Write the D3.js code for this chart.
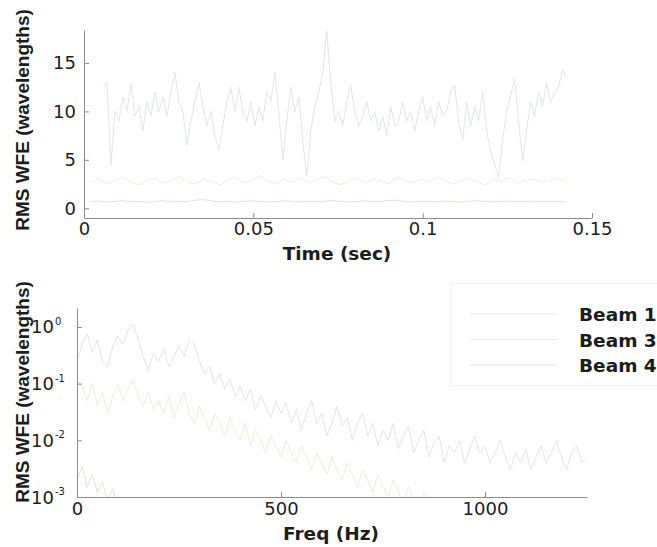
<!DOCTYPE html>
<html>
<head>
<meta charset="utf-8">
<script src="https://cdn.jsdelivr.net/npm/d3@7"></script>
<style>
  body { margin: 0; background: #fff; }
  svg { display: block; }
</style>
</head>
<body>
<svg id="chart" width="657" height="547"></svg>
<script>
// ---- series metadata ----
const seriesNames = ["Beam 1", "Beam 3", "Beam 4"];
const seriesColors = ["#e3e5eb", "#f0edd4", "#eedcdc"];

// ---- tick labels ----
const timeTicks = [0, 0.05, 0.1, 0.15];
const wfeTicks = [0, 5, 10, 15];
const freqTicks = [0, 500, 1000];
const psdTicks = [1e-3, 1e-2, 1e-1, 1];
const psdTickExponents = ["-3", "-2", "-1", "0"];

// ---- time histories: RMS WFE (wavelengths), sampled on a regular time grid ----
const beam1TimeStart = 0.0056, beam1TimeStep = 0.00118;
const beam1Wfe = [
  12.5, 13, 4.5, 10, 9, 11.5, 10, 12.8, 9.5, 10.5, 8, 11, 9.5, 12, 10, 11.5,
  9.5, 12, 14, 11, 10, 6.5, 9, 11, 13, 10.5, 8.5, 10, 7.5, 6, 8.5, 11,
  12.5, 10, 12.5, 10, 9, 11, 8.5, 10.5, 9, 12, 11, 14, 10, 5, 9, 12.5,
  10, 11.5, 7, 3.3, 8, 10.5, 12, 14, 18.3, 13, 9, 10, 8.5, 11, 12.7, 10,
  8.5, 9.5, 11, 9, 10, 8, 9.5, 7.5, 10.5, 8.5, 9, 11, 9, 10, 8, 10,
  11.5, 9, 10.5, 8.5, 11, 9.5, 10, 12, 12.7, 9, 7, 11, 8.5, 10.5, 9, 12,
  8, 6, 4.5, 3.2, 7, 10, 11.5, 13.4, 9, 4.9, 8, 11, 9.5, 12, 10.5, 13,
  11, 12, 12.5, 14.3, 13.5
];
const lowTimeStart = 0.002, lowTimeStep = 0.00238;
const beam3Wfe = [
  2.6, 3.0, 2.5, 2.9, 3.2, 2.7, 2.4, 2.9, 3.1, 2.6, 2.8, 3.3, 2.7, 2.5, 3.0,
  2.8, 2.4, 2.9, 3.2, 2.6, 2.9, 3.4, 2.8, 2.5, 3.0, 2.7, 3.1, 2.6, 2.9, 3.3,
  2.7, 2.4, 2.8, 3.1, 2.6, 3.0, 2.8, 2.5, 3.2, 2.9, 2.6, 3.0, 2.7, 3.2, 2.8,
  2.5, 2.9, 3.1, 2.7, 2.4, 3.0, 2.8, 3.2, 2.6, 2.9, 3.0, 2.7, 2.9, 3.1, 2.8
];
const beam4Wfe = [
  0.7, 0.75, 0.65, 0.7, 0.8, 0.68, 0.72, 0.62, 0.7, 0.78, 0.66, 0.72, 0.7, 0.85, 0.9,
  0.74, 0.68, 0.7, 0.64, 0.72, 0.76, 0.7, 0.66, 0.71, 0.78, 0.7, 0.65, 0.72, 0.69, 0.74,
  0.8, 0.7, 0.66, 0.7, 0.75, 0.68, 0.72, 0.8, 0.84, 0.7, 0.66, 0.73, 0.7, 0.68, 0.75,
  0.7, 0.64, 0.72, 0.78, 0.7, 0.67, 0.71, 0.74, 0.69, 0.72, 0.66, 0.7, 0.73, 0.7, 0.68
];

// ---- spectra: RMS WFE (wavelengths) per frequency bin ----
const freqStep = 12.5;
const beam1Psd = [
  0.25, 0.5, 0.75, 0.35, 0.6, 0.25, 0.19, 0.45, 0.7, 0.5, 0.9, 1.1, 0.6, 0.3, 0.17, 0.35,
  0.25, 0.4, 0.2, 0.3, 0.45, 0.3, 0.6, 0.5, 0.25, 0.15, 0.2, 0.1, 0.15, 0.08, 0.12, 0.06,
  0.09, 0.05, 0.08, 0.035, 0.06, 0.04, 0.025, 0.05, 0.03, 0.045, 0.02, 0.035, 0.015, 0.03,
  0.05, 0.02, 0.03, 0.012, 0.02, 0.04, 0.018, 0.025, 0.01, 0.02, 0.03, 0.012, 0.02, 0.008,
  0.015, 0.01, 0.02, 0.007, 0.012, 0.018, 0.006, 0.01, 0.015, 0.005, 0.009, 0.012, 0.004,
  0.008, 0.006, 0.01, 0.004, 0.007, 0.012, 0.006, 0.008, 0.004, 0.006, 0.01, 0.005, 0.003,
  0.006, 0.004, 0.007, 0.003, 0.005, 0.008, 0.004, 0.006, 0.01, 0.005, 0.003, 0.006, 0.008,
  0.004, 0.005
];
const beam3Psd = [
  0.12, 0.09, 0.05, 0.1, 0.04, 0.07, 0.03, 0.06, 0.1, 0.05, 0.08, 0.12, 0.06, 0.04, 0.07,
  0.035, 0.05, 0.03, 0.06, 0.025, 0.045, 0.07, 0.03, 0.02, 0.04, 0.025, 0.015, 0.03, 0.02,
  0.012, 0.025, 0.015, 0.01, 0.02, 0.008, 0.015, 0.01, 0.006, 0.012, 0.008, 0.005, 0.01,
  0.006, 0.004, 0.008, 0.005, 0.003, 0.006, 0.004, 0.0025, 0.005, 0.003, 0.002, 0.004,
  0.0025, 0.0015, 0.003, 0.002, 0.0012, 0.0025, 0.0015, 0.001, 0.002, 0.0012, 0.0008,
  0.0015, 0.001, 0.0007, 0.0012, 0.0009, 0.0006, 0.001, 0.0008, 0.0005, 0.0009, 0.0006,
  0.0004, 0.0008, 0.0005, 0.0004, 0.0007, 0.0005, 0.0003, 0.0006, 0.0004, 0.0003, 0.0005,
  0.0004, 0.0003, 0.0005, 0.0003, 0.0002, 0.0004, 0.0003, 0.0002, 0.0004, 0.0003, 0.0002,
  0.0003, 0.0002, 0.0003
];
const beam4Psd = [
  0.002, 0.0035, 0.0015, 0.0025, 0.0012, 0.0018, 0.0009, 0.0014, 0.0006, 0.0004,
  0.0008, 0.0003, 0.0005, 0.0003, 0.0002, 0.0004, 0.0002, 0.0003, 0.0002, 0.0002
];

// ---- page ----
const svg = d3.select("#chart");
const axisColor = "#8c8c8c";
const textColor = "#1c1c1c";
const tickFont = "'DejaVu Sans', sans-serif";

// scales
const xTime = d3.scaleLinear([0, 0.15], [84, 592]);
const yWfe = d3.scaleLinear([-1, 18.4], [218, 30]);
const xFreq = d3.scaleLinear([0, 1250], [77, 587]);
const yPsd = d3.scaleLog([1e-3, 2.16], [497, 308]);

const defs = svg.append("defs");
defs.append("clipPath").attr("id", "clipTop")
  .append("rect").attr("x", 84).attr("y", 30).attr("width", 508).attr("height", 188);
defs.append("clipPath").attr("id", "clipBottom")
  .append("rect").attr("x", 77).attr("y", 308).attr("width", 510).attr("height", 189);

function toPoints(values, start, step) {
  return values.map((v, i) => [start + i * step, v]);
}

// ---- top panel: time histories ----
const topSeries = [
  { pts: toPoints(beam1Wfe, beam1TimeStart, beam1TimeStep), color: seriesColors[0] },
  { pts: toPoints(beam3Wfe, lowTimeStart, lowTimeStep), color: seriesColors[1] },
  { pts: toPoints(beam4Wfe, lowTimeStart, lowTimeStep), color: seriesColors[2] }
];
const timeLine = d3.line().x(d => xTime(d[0])).y(d => yWfe(d[1]));
svg.append("g").attr("clip-path", "url(#clipTop)")
  .selectAll("path").data(topSeries).join("path")
  .attr("d", d => timeLine(d.pts))
  .attr("fill", "none").attr("stroke", d => d.color).attr("stroke-width", 1);

function styleAxis(g) {
  g.attr("font-family", tickFont).attr("font-size", 18);
  g.select(".domain").attr("stroke", axisColor);
  g.selectAll(".tick line").attr("stroke", axisColor);
  g.selectAll(".tick text").attr("fill", textColor);
}

svg.append("g").attr("transform", `translate(0,218)`)
  .call(d3.axisBottom(xTime).tickValues(timeTicks).tickFormat(d3.format("~g"))
    .tickSizeInner(-5).tickSizeOuter(0).tickPadding(4))
  .call(styleAxis);
svg.append("g").attr("transform", `translate(84,0)`)
  .call(d3.axisLeft(yWfe).tickValues(wfeTicks).tickFormat(d3.format("d"))
    .tickSizeInner(-5).tickSizeOuter(0).tickPadding(8))
  .call(styleAxis);

svg.append("text").text("Time (sec)")
  .attr("x", 337).attr("y", 260).attr("text-anchor", "middle")
  .attr("font-family", "'DejaVu Sans', sans-serif").attr("font-weight", "bold")
  .attr("font-size", 18.5).attr("fill", textColor);
svg.append("text").text("RMS WFE (wavelengths)")
  .attr("transform", "translate(29,120) rotate(-90)").attr("text-anchor", "middle")
  .attr("font-family", "'Liberation Sans', Arial, sans-serif").attr("font-weight", "bold")
  .attr("font-size", 19).attr("fill", textColor);

// ---- bottom panel: spectra ----
const bottomSeries = [
  { pts: toPoints(beam1Psd, 0, freqStep), color: seriesColors[0] },
  { pts: toPoints(beam3Psd, 0, freqStep), color: seriesColors[1] },
  { pts: toPoints(beam4Psd, 0, freqStep), color: seriesColors[2] }
];
const freqLine = d3.line().x(d => xFreq(d[0])).y(d => yPsd(d[1]));
svg.append("g").attr("clip-path", "url(#clipBottom)")
  .selectAll("path").data(bottomSeries).join("path")
  .attr("d", d => freqLine(d.pts))
  .attr("fill", "none").attr("stroke", d => d.color).attr("stroke-width", 1);

svg.append("g").attr("transform", `translate(0,497)`)
  .call(d3.axisBottom(xFreq).tickValues(freqTicks).tickFormat(d3.format("d"))
    .tickSizeInner(-5).tickSizeOuter(0).tickPadding(5))
  .call(styleAxis);
svg.append("g").attr("transform", `translate(77,0)`)
  .call(d3.axisLeft(yPsd).tickValues(psdTicks).tickFormat(() => "")
    .tickSizeInner(-5).tickSizeOuter(0))
  .call(styleAxis);

// power-of-ten labels: base "10" with a raised exponent
const psdLabels = svg.append("g").attr("font-family", tickFont).attr("fill", textColor);
psdTicks.forEach((v, i) => {
  const y = yPsd(v);
  psdLabels.append("text").text("10")
    .attr("x", 54).attr("y", y + 6.5).attr("text-anchor", "end").attr("font-size", 18);
  psdLabels.append("text").text(psdTickExponents[i])
    .attr("x", 55).attr("y", y - 2).attr("font-size", 10);
});

svg.append("text").text("Freq (Hz)")
  .attr("x", 331).attr("y", 539.5).attr("text-anchor", "middle")
  .attr("font-family", "'DejaVu Sans', sans-serif").attr("font-weight", "bold")
  .attr("font-size", 18.5).attr("fill", textColor);
svg.append("text").text("RMS WFE (wavelengths)")
  .attr("transform", "translate(29,392) rotate(-90)").attr("text-anchor", "middle")
  .attr("font-family", "'Liberation Sans', Arial, sans-serif").attr("font-weight", "bold")
  .attr("font-size", 19).attr("fill", textColor);

// ---- legend ----
const legend = svg.append("g");
legend.append("rect").attr("x", 450.5).attr("y", 283.5).attr("width", 240).attr("height", 102)
  .attr("fill", "#fff").attr("stroke", "#f2f2f2");
seriesNames.forEach((name, i) => {
  const cy = 314 + i * 25.5;
  legend.append("line").attr("x1", 470).attr("x2", 557).attr("y1", cy).attr("y2", cy)
    .attr("stroke", seriesColors[i]).attr("stroke-width", 1);
  legend.append("text").text(name)
    .attr("x", 579).attr("y", cy + 7)
    .attr("font-family", "'DejaVu Sans', sans-serif").attr("font-weight", "bold")
    .attr("font-size", 18.5).attr("fill", textColor);
});
</script>
</body>
</html>
